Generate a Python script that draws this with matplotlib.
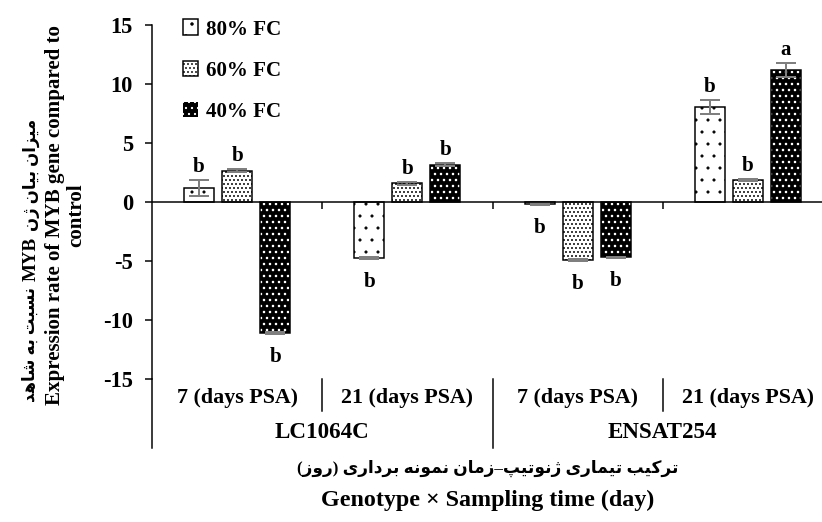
import re
import numpy as np
import matplotlib
matplotlib.use("Agg")
import matplotlib.pyplot as plt
from matplotlib.patches import Patch
from matplotlib.markers import TICKDOWN

# ---------------- data ----------------
genotypes = ["LC1064C", "ENSAT254"]
times = ["7 (days PSA)", "21 (days PSA)"]
series = ["80% FC", "60% FC", "40% FC"]
v80 = [1.2, -4.75, -0.15, 8.05]
v60 = [2.65, 1.58, -4.9, 1.86]
v40 = [-11.1, 3.15, -4.7, 11.2]
e80 = [0.65, 0.1, 0.08, 0.58]
e60 = [0.12, 0.1, 0.08, 0.12]
e40 = [0.1, 0.12, 0.08, 0.6]
l80 = ["b", "b", "b", "b"]
l60 = ["b", "b", "b", "b"]
l40 = ["b", "b", "b", "a"]
yticks = [-15, -10, -5, 0, 5, 10, 15]

# Persian y title: "میزان بیان ژن MYB نسبت به شاهد" (logical order pieces)
ylab_fa_parts = ["میزان بیان ژن", "MYB", "نسبت به شاهد"]
ylab_en1 = "Expression rate of MYB gene compared to"
ylab_en2 = "control"
xlab_fa = "ترکیب تیماری ژنوتیپ–زمان نمونه برداری (روز)"
xlab_en = "Genotype × Sampling time (day)"

# ------------- minimal Persian shaping -------------
FORMS = {
    "\u0627": ("\uFE8D", "\uFE8E", None, None),
    "\u0628": ("\uFE8F", "\uFE90", "\uFE91", "\uFE92"),
    "\u062A": ("\uFE95", "\uFE96", "\uFE97", "\uFE98"),
    "\u062F": ("\uFEA9", "\uFEAA", None, None),
    "\u0631": ("\uFEAD", "\uFEAE", None, None),
    "\u0632": ("\uFEAF", "\uFEB0", None, None),
    "\u0633": ("\uFEB1", "\uFEB2", "\uFEB3", "\uFEB4"),
    "\u0634": ("\uFEB5", "\uFEB6", "\uFEB7", "\uFEB8"),
    "\u0645": ("\uFEE1", "\uFEE2", "\uFEE3", "\uFEE4"),
    "\u0646": ("\uFEE5", "\uFEE6", "\uFEE7", "\uFEE8"),
    "\u0647": ("\uFEE9", "\uFEEA", "\uFEEB", "\uFEEC"),
    "\u0648": ("\uFEED", "\uFEEE", None, None),
    "\u067E": ("\uFB56", "\uFB57", "\uFB58", "\uFB59"),
    "\u0698": ("\uFB8A", "\uFB8B", None, None),
    "\u06A9": ("\uFB8E", "\uFB8F", "\uFB90", "\uFB91"),
    "\u06CC": ("\uFBFC", "\uFBFD", "\uFBFE", "\uFBFF"),
}


def shape(s):
    out = []
    n = len(s)
    for i, c in enumerate(s):
        if c not in FORMS:
            out.append(c)
            continue
        iso, fin, ini, med = FORMS[c]
        prev = s[i - 1] if i > 0 else ""
        nxt = s[i + 1] if i < n - 1 else ""
        jp = prev in FORMS and FORMS[prev][2] is not None
        jn = ini is not None and nxt in FORMS
        if jp and jn:
            out.append(med)
        elif jp:
            out.append(fin)
        elif jn:
            out.append(ini)
        else:
            out.append(iso)
    t = "".join(out)[::-1]
    t = re.sub(r"[A-Za-z0-9]+", lambda m: m.group(0)[::-1], t)
    return t.translate(str.maketrans("()", ")("))


# ---------------- figure ----------------
W, H = 822, 522
fig = plt.figure(figsize=(W / 72, H / 72), dpi=72)
SERIF = ["Liberation Serif", "DejaVu Serif"]
FA = ["Liberation Serif", "DejaVu Sans"]

x0, x1, ytop, ybot = 152, 833, 25, 379
ax = fig.add_axes([x0 / W, 1 - ybot / H, (x1 - x0) / W, (ybot - ytop) / H])

n = len(v80)
x = np.arange(n) + 0.5
off = 38 / 170
bw = 30 / 170

with plt.rc_context({"hatch.linewidth": 0.6}):
    ax.bar(x - off, v80, bw, color="white", edgecolor="black", hatch=".", lw=1.5, zorder=2)
    h80 = Patch(facecolor="white", edgecolor="black", hatch=".", lw=1.5)
with plt.rc_context({"hatch.linewidth": 1.1}):
    ax.bar(x, v60, bw, color="white", edgecolor="black", hatch="...", lw=1.5, zorder=2)
    h60 = Patch(facecolor="white", edgecolor="black", hatch="...", lw=1.5)
with plt.rc_context({"hatch.linewidth": 1.3}):
    ax.bar(x + off, v40, bw, color="black", edgecolor="white", hatch="..", lw=0, zorder=2)
    h40 = Patch(facecolor="black", edgecolor="white", hatch="..", lw=0)
ax.bar(x + off, v40, bw, fill=False, edgecolor="black", lw=1.5, zorder=3)

for xs, vs, es, ls in [(x - off, v80, e80, l80), (x, v60, e60, l60), (x + off, v40, e40, l40)]:
    ax.errorbar(xs, vs, yerr=es, fmt="none", ecolor="#7f7f7f", elinewidth=2,
                capsize=10, capthick=2, zorder=4)
    for xi, vi, ei, li in zip(xs, vs, es, ls):
        if vi >= 0:
            ax.annotate(li, (xi, vi + ei), xytext=(0, 3), textcoords="offset points",
                        ha="center", va="bottom", fontsize=21, fontweight="bold",
                        family=SERIF)
        else:
            ax.annotate(li, (xi, vi - ei), xytext=(0, -13), textcoords="offset points",
                        ha="center", va="top", fontsize=21, fontweight="bold",
                        family=SERIF)

ax.set_xlim(0, n)
ax.set_ylim(yticks[0], yticks[-1])
ax.set_yticks(yticks)
ax.set_yticklabels([str(t) for t in yticks], fontsize=22.5, fontweight="bold", family=SERIF)
ax.tick_params(axis="y", direction="out", length=7, width=1.5, pad=12)
ax.set_xticks([])
for s in ["top", "right", "bottom"]:
    ax.spines[s].set_visible(False)
ax.spines["left"].set_linewidth(1.5)
ax.axhline(0, color="black", lw=1.5, zorder=5)
ax.plot(np.arange(1, n), np.zeros(n - 1), ls="none", marker=TICKDOWN, ms=7,
        mew=1.5, color="black", zorder=5, clip_on=False)

# multi-level category axis
axh = ybot - ytop
trans = ax.get_xaxis_transform()
ax.plot([0, 0], [0, -(448 - ybot) / axh], color="black", lw=1.5, transform=trans, clip_on=False)
for i, lab in enumerate(times * len(genotypes)):
    ax.text(i + 0.5, -(398 - ybot) / axh, lab, transform=trans, ha="center", va="center",
            fontsize=22, fontweight="bold", family=SERIF)
for k in range(1, n):
    bottom = 448 if k % len(times) == 0 else 411
    ax.plot([k, k], [0, -(bottom - ybot) / axh], color="black", lw=1.5,
            transform=trans, clip_on=False)
for g, lab in enumerate(genotypes):
    ax.text(len(times) * g + len(times) / 2, -(433 - ybot) / axh, lab, transform=trans,
            ha="center", va="center", fontsize=23, fontweight="bold", family=SERIF)

# legend
leg = fig.legend([h80, h60, h40], series, loc="upper left",
                 bbox_to_anchor=(172 / W, 1 - 9 / H),
                 frameon=False, borderpad=0, handlelength=0.75, handleheight=0.75,
                 handletextpad=0.35, labelspacing=1.0,
                 prop={"family": SERIF, "weight": "bold", "size": 21})

# axis titles
renderer = fig.canvas.get_renderer()
ypix = H - 402  # bottom of the rotated Persian line, in pixels from the bottom
for part in reversed(ylab_fa_parts):
    is_latin = re.fullmatch(r"[A-Za-z0-9 ]+", part) is not None
    t = fig.text(31 / W, ypix / H, part if is_latin else shape(part), rotation=90,
                 ha="center", va="bottom", fontweight="bold",
                 fontsize=19 if is_latin else 16.5, family=SERIF if is_latin else FA)
    ypix += t.get_window_extent(renderer).height + 6

yc = 1 - 215 / H
fig.text(55 / W, yc, ylab_en1, rotation=90, ha="center", va="center",
         fontsize=21, fontweight="bold", family=SERIF)
fig.text(76 / W, yc, ylab_en2, rotation=90, ha="center", va="center",
         fontsize=21, fontweight="bold", family=SERIF)
fig.text(488 / W, 1 - 468 / H, shape(xlab_fa), ha="center", va="center",
         fontsize=17, fontweight="bold", family=FA)
fig.text(488 / W, 1 - 500 / H, xlab_en, ha="center", va="center",
         fontsize=24, fontweight="bold", family=SERIF)

fig.savefig("out.png", dpi=72)
